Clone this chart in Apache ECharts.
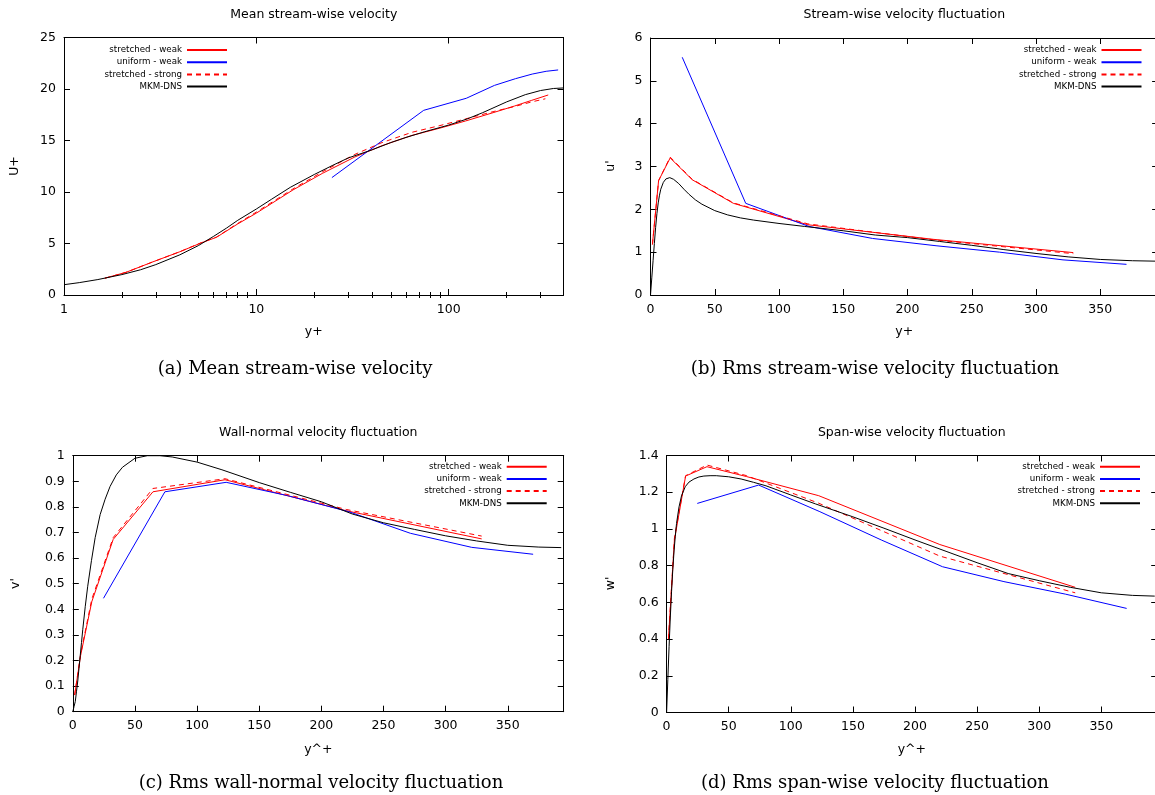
<!DOCTYPE html>
<html><head><meta charset="utf-8">
<script src="https://cdn.jsdelivr.net/npm/echarts@6/dist/echarts.min.js"></script>
<style>html,body{margin:0;padding:0;background:#fff}#c{width:1155px;height:795px}</style>
</head><body><div id="c"></div>
<script>
// ---------------- DATA ----------------
const seriesNames = ['stretched - weak', 'uniform - weak', 'stretched - strong', 'MKM-DNS'];
const logTicks = [1, 10, 100];
const logMinorTicks = [2, 3, 4, 5, 6, 7, 8, 9, 20, 30, 40, 50, 60, 70, 80, 90, 200, 300];

// (a) mean stream-wise velocity
const yPlusStretchedA = [1.63, 2.1, 2.9, 4.0, 5.2, 6.2, 8, 10, 15.5, 22, 32.5, 45, 64.5, 90, 122.5, 170, 220, 270, 329];
const meanStretchedWeak = [1.63, 2.2, 3.22, 4.2, 5.08, 5.6, 6.9, 7.95, 10.2, 11.8, 13.4, 14.5, 15.5, 16.2, 16.9, 17.7, 18.35, 18.9, 19.42];
const yPlusStretchedStrongA = [1.63, 2.1, 2.9, 4.0, 5.2, 6.2, 8, 10, 15.5, 22, 32.5, 45, 64.5, 90, 122.5, 170, 220, 270, 318];
const meanStretchedStrong = [1.63, 2.2, 3.22, 4.2, 5.1, 5.62, 6.95, 8.05, 10.3, 11.95, 13.65, 14.8, 15.8, 16.45, 17.1, 17.8, 18.3, 18.75, 19.05];
const yPlusUniform = [24.7, 74.1, 123.4, 172.8, 222.2, 271.6, 321, 370.4];
const meanUniformWeak = [11.4, 17.93, 19.1, 20.35, 21.0, 21.45, 21.72, 21.85];
const yPlusDnsA = [1, 1.2, 1.5, 2, 2.5, 3, 4, 5, 6, 7, 8, 10, 12, 15, 20, 25, 30, 40, 50, 60, 75, 100, 125, 150, 200, 250, 300, 350, 393];
const meanDns = [1.0, 1.2, 1.5, 1.98, 2.45, 2.95, 3.9, 4.8, 5.7, 6.5, 7.25, 8.35, 9.3, 10.45, 11.7, 12.6, 13.3, 14.1, 14.8, 15.3, 15.85, 16.5, 17.1, 17.7, 18.75, 19.45, 19.85, 20.05, 20.1];

// (b)(c)(d) shared wall distances
const yPlusStretched = [1.5, 6.3, 15.3, 32.5, 64.5, 122.5, 220, 329];
const yPlusDns = [0, 1, 2, 3, 4, 5, 6, 7, 8, 10, 12, 15, 18, 22, 26, 30, 35, 40, 50, 60, 70, 80, 100, 120, 150, 175, 200, 225, 250, 275, 300, 325, 350, 375, 393];

// (b) u'
const urmsStretchedWeak = [1.18, 2.67, 3.2, 2.69, 2.14, 1.64, 1.3, 0.99];
const urmsStretchedStrong = [1.18, 2.67, 3.22, 2.7, 2.15, 1.66, 1.29, 0.965];
const urmsUniformWeak = [5.55, 2.14, 1.6, 1.32, 1.15, 1.0, 0.82, 0.716];
const urmsDns = [0, 0.4, 0.8, 1.2, 1.58, 1.9, 2.15, 2.33, 2.47, 2.63, 2.71, 2.74, 2.7, 2.6, 2.47, 2.35, 2.22, 2.12, 1.97, 1.87, 1.8, 1.75, 1.67, 1.6, 1.5, 1.4, 1.34, 1.25, 1.16, 1.06, 0.97, 0.89, 0.83, 0.8, 0.79];

// (c) v'
const vrmsStretchedWeak = [0.065, 0.22, 0.43, 0.673, 0.859, 0.906, 0.785, 0.675];
const vrmsStretchedStrong = [0.065, 0.225, 0.44, 0.68, 0.872, 0.91, 0.79, 0.686];
const vrmsUniformWeak = [0.443, 0.859, 0.896, 0.844, 0.781, 0.697, 0.642, 0.615];
const vrmsDns = [0, 0.02, 0.04, 0.08, 0.12, 0.17, 0.22, 0.27, 0.32, 0.41, 0.49, 0.59, 0.68, 0.77, 0.83, 0.88, 0.925, 0.955, 0.99, 1.0, 1.0, 0.995, 0.975, 0.945, 0.895, 0.857, 0.82, 0.772, 0.738, 0.712, 0.687, 0.667, 0.65, 0.643, 0.641];

// (d) w'
const wrmsStretchedWeak = [0.4, 0.94, 1.288, 1.339, 1.285, 1.181, 0.915, 0.682];
const wrmsStretchedStrong = [0.4, 0.95, 1.29, 1.348, 1.29, 1.14, 0.852, 0.652];
const wrmsUniformWeak = [1.139, 1.239, 1.094, 0.94, 0.794, 0.713, 0.645, 0.567];
const wrmsDns = [0, 0.18, 0.36, 0.52, 0.66, 0.78, 0.88, 0.96, 1.03, 1.12, 1.18, 1.23, 1.255, 1.272, 1.283, 1.288, 1.29, 1.29, 1.284, 1.272, 1.254, 1.235, 1.185, 1.136, 1.066, 1.004, 0.94, 0.878, 0.816, 0.757, 0.718, 0.682, 0.652, 0.638, 0.634];

// ---------------- CHART ----------------
const FONT = 'DejaVu Sans';
const zip = (xs, ys) => xs.map((x, i) => [x, ys[i]]);
const axisLine = { show: true, onZero: false, lineStyle: { color: '#000', width: 1 } };
const tickMajor = { show: true, inside: true, length: 6, lineStyle: { color: '#000', width: 1 } };
const labelStyle = { color: '#000', fontFamily: FONT, fontSize: 12.5 };

const grids = [
  { left: 64, top: 37.5, width: 499.5, height: 257.5, outerBoundsMode: 'none', containLabel: false },
  { left: 650.5, top: 38, width: 507.6, height: 257, outerBoundsMode: 'none', containLabel: false },
  { left: 72.8, top: 455.7, width: 490.9, height: 256, outerBoundsMode: 'none', containLabel: false },
  { left: 666.6, top: 455.5, width: 490.6, height: 257, outerBoundsMode: 'none', containLabel: false }
];

const xAxes = [];
const yAxes = [];
// grid 0: log x axes (major bottom, major top, minor bottom, minor top)
xAxes.push({ type: 'log', logBase: 10, gridIndex: 0, position: 'bottom', min: 1, max: 395,
  axisLine, axisTick: Object.assign({}, tickMajor, { customValues: logTicks }),
  axisLabel: Object.assign({ show: true, margin: 8, customValues: logTicks }, labelStyle), splitLine: { show: false } });
xAxes.push({ type: 'log', logBase: 10, gridIndex: 0, position: 'top', min: 1, max: 395,
  axisLine, axisTick: Object.assign({}, tickMajor, { customValues: logTicks }),
  axisLabel: { show: false }, splitLine: { show: false } });
xAxes.push({ type: 'log', logBase: 10, gridIndex: 0, position: 'bottom', min: 1, max: 395,
  axisLine: { show: false }, axisTick: Object.assign({}, tickMajor, { length: 3, customValues: logMinorTicks }),
  axisLabel: { show: false }, splitLine: { show: false } });
xAxes.push({ type: 'log', logBase: 10, gridIndex: 0, position: 'top', min: 1, max: 395,
  axisLine: { show: false }, axisTick: Object.assign({}, tickMajor, { length: 3, customValues: logMinorTicks }),
  axisLabel: { show: false }, splitLine: { show: false } });
// grids 1..3: linear x axes
for (let g = 1; g < 4; g++) {
  ['bottom', 'top'].forEach(pos => xAxes.push({ type: 'value', gridIndex: g, position: pos, min: 0, max: 395, interval: 50,
    axisLine, axisTick: tickMajor, splitLine: { show: false },
    axisLabel: Object.assign({ show: pos === 'bottom', margin: 8, showMaxLabel: false }, labelStyle) }));
}
const yRanges = [[25, 5], [6, 1], [1, 0.1], [1.4, 0.2]];
for (let g = 0; g < 4; g++) {
  ['left', 'right'].forEach(pos => yAxes.push({ type: 'value', gridIndex: g, position: pos, min: 0, max: yRanges[g][0], interval: yRanges[g][1],
    axisLine, axisTick: tickMajor, splitLine: { show: false },
    axisLabel: Object.assign({ show: pos === 'left', margin: 8 }, labelStyle) }));
}
const xIdx = [0, 4, 6, 8];

function mk(name, data, g, color, dashed) {
  return { name, type: 'line', data, xAxisIndex: xIdx[g], yAxisIndex: 2 * g, symbol: 'none', showSymbol: false,
    silent: true, clip: true, smooth: false,
    lineStyle: { color, width: 1, type: dashed ? [5, 4] : 'solid' }, itemStyle: { color } };
}
const RED = '#ff0000', BLUE = '#0000ff', BLACK = '#000000';
const series = [
  mk(seriesNames[0], zip(yPlusStretchedA, meanStretchedWeak), 0, RED, false),
  mk(seriesNames[1], zip(yPlusUniform, meanUniformWeak), 0, BLUE, false),
  mk(seriesNames[2], zip(yPlusStretchedStrongA, meanStretchedStrong), 0, RED, true),
  mk(seriesNames[3], zip(yPlusDnsA, meanDns), 0, BLACK, false),

  mk(seriesNames[0], zip(yPlusStretched, urmsStretchedWeak), 1, RED, false),
  mk(seriesNames[1], zip(yPlusUniform, urmsUniformWeak), 1, BLUE, false),
  mk(seriesNames[2], zip(yPlusStretched, urmsStretchedStrong), 1, RED, true),
  mk(seriesNames[3], zip(yPlusDns, urmsDns), 1, BLACK, false),

  mk(seriesNames[0], zip(yPlusStretched, vrmsStretchedWeak), 2, RED, false),
  mk(seriesNames[1], zip(yPlusUniform, vrmsUniformWeak), 2, BLUE, false),
  mk(seriesNames[2], zip(yPlusStretched, vrmsStretchedStrong), 2, RED, true),
  mk(seriesNames[3], zip(yPlusDns, vrmsDns), 2, BLACK, false),

  mk(seriesNames[0], zip(yPlusStretched, wrmsStretchedWeak), 3, RED, false),
  mk(seriesNames[1], zip(yPlusUniform, wrmsUniformWeak), 3, BLUE, false),
  mk(seriesNames[2], zip(yPlusStretched, wrmsStretchedStrong), 3, RED, true),
  mk(seriesNames[3], zip(yPlusDns, wrmsDns), 3, BLACK, false)
];

const legendPos = [[927, 45], [12.5, 45], [607.3, 461.7], [14, 461.7]];
const legends = legendPos.map(p => ({
  data: seriesNames, orient: 'vertical', align: 'right', right: p[0], top: p[1],
  itemWidth: 40, itemHeight: 10, itemGap: 2.2, padding: 0, selectedMode: false,
  itemStyle: { opacity: 0, borderWidth: 0 },
  textStyle: { fontFamily: FONT, fontSize: 8.7, color: '#000', lineHeight: 10 }
}));

function txt(text, x, y, font, rot) {
  return { type: 'text', x, y, rotation: rot || 0, silent: true,
    style: { text, fill: '#000', font, align: 'center', verticalAlign: 'middle' } };
}
const TF = '12.5px "DejaVu Sans"';
const CF = '18px "DejaVu Serif"';
const graphic = [
  txt('Mean stream-wise velocity', 313.8, 15, TF),
  txt('Stream-wise velocity fluctuation', 904.3, 15, TF),
  txt('Wall-normal velocity fluctuation', 318.3, 432.5, TF),
  txt('Span-wise velocity fluctuation', 911.8, 432.5, TF),
  txt('U+', 15, 166, TF, Math.PI / 2),
  txt("u'", 611, 166, TF, Math.PI / 2),
  txt("v'", 16, 583.5, TF, Math.PI / 2),
  txt("w'", 611, 583.5, TF, Math.PI / 2),
  txt('y+', 313.8, 332, TF),
  txt('y+', 904.3, 332, TF),
  txt('y^+', 318.3, 750, TF),
  txt('y^+', 911.8, 750, TF),
  txt('(a) Mean stream-wise velocity', 295, 369, CF),
  txt('(b) Rms stream-wise velocity fluctuation', 875, 369, CF),
  txt('(c) Rms wall-normal velocity fluctuation', 321, 783, CF),
  txt('(d) Rms span-wise velocity fluctuation', 875, 783, CF)
];

const chart = echarts.init(document.getElementById('c'), null, { renderer: 'canvas' });
chart.setOption({
  backgroundColor: '#ffffff',
  animation: false,
  grid: grids,
  xAxis: xAxes,
  yAxis: yAxes,
  legend: legends,
  series,
  graphic
});
</script></body></html>
